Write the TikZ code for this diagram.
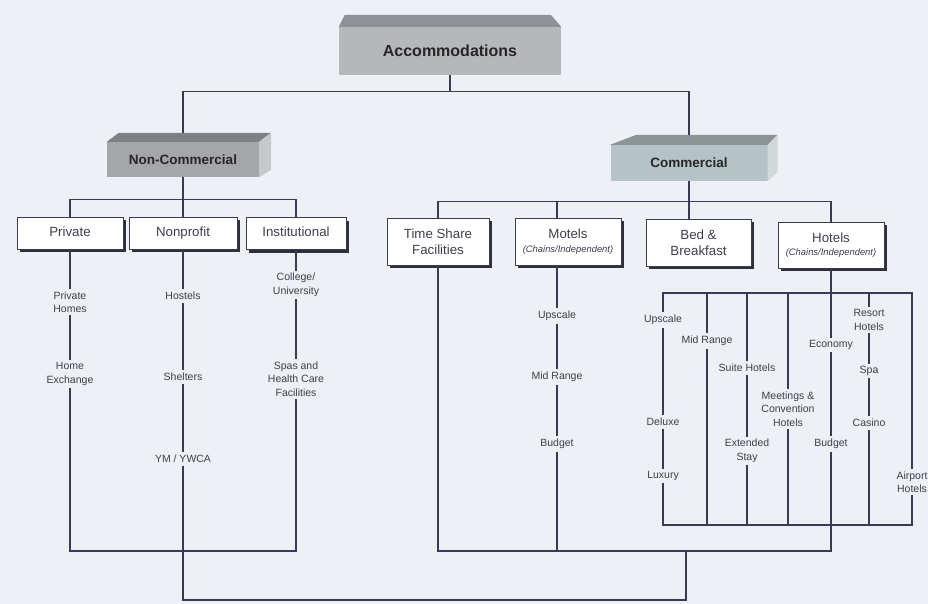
\documentclass[tikz,border=0pt]{standalone}
\usepackage{fontspec}
\setmainfont{Liberation Sans}
\usetikzlibrary{positioning,shadows}
\definecolor{paper}{HTML}{EDF0F5}
\definecolor{ink}{HTML}{3A3A56}
\definecolor{txt}{HTML}{3E3E4E}
\definecolor{shade}{HTML}{2F2F3D}
\definecolor{accfront}{HTML}{B5B7BB}
\definecolor{acctop}{HTML}{8F9197}
\definecolor{ncfront}{HTML}{A5A6AA}
\definecolor{nctop}{HTML}{7E8086}
\definecolor{ncside}{HTML}{C6C8CC}
\definecolor{cfront}{HTML}{B4C3C5}
\definecolor{ctop}{HTML}{8B9395}
\definecolor{cside}{HTML}{D2D8DA}
\newcommand\brandnote{{\fontsize{9.4}{11}\selectfont\itshape (Chains/Independent)}}
\tikzset{
  link/.style={draw=ink, line width=1.2pt},
  block/.style={inner sep=0pt, text=black!85,
    font=\fontsize{13.5}{16}\selectfont\bfseries},
  catbox/.style={draw=ink, line width=0.8pt, fill=white, minimum width=106pt,
    minimum height=32pt, inner sep=1pt, align=center, text=txt,
    font=\fontsize{13.3}{16.5}\selectfont,
    drop shadow={shadow xshift=3pt, shadow yshift=-3pt, fill=shade, opacity=1}},
  oneline/.style={text height=9.6pt, text depth=2.8pt},
  item/.style={inner sep=2.5pt, align=center, text=txt,
    font=\fontsize{10.5}{13.5}\selectfont}
}
\begin{document}
\begin{tikzpicture}[x=1pt, y=-1pt]
\fill[paper] (0,0) rectangle (928,604);
\useasboundingbox (0,0) rectangle (928,604);

% blocks
\node[block, fill=accfront, minimum width=222pt, minimum height=48pt,
  font=\fontsize{16}{19}\selectfont\bfseries] (acc) at (450,51) {Accommodations};
\fill[acctop] (acc.north west) -- ++(6,-12) -- ++(206,0) -- (acc.north east) -- cycle;
\node[block, fill=ncfront, minimum width=152pt, minimum height=35pt] (nc) at (183,159.5) {Non-Commercial};
\fill[nctop] (nc.north west) -- ++(12,-9) -- ++(152,0) -- (nc.north east) -- cycle;
\fill[ncside] (nc.north east) -- ++(12,-9) -- ++(0,37) -- (nc.south east) -- cycle;
\node[block, fill=cfront, minimum width=157pt, minimum height=36pt] (com) at (689,163) {Commercial};
\fill[ctop] (com.north west) -- ++(26,-10) -- ++(141,0) -- (com.north east) -- cycle;
\fill[cside] (com.north east) -- ++(10,-10) -- ++(0,37) -- (com.south east) -- cycle;
\coordinate (ncback) at (183,133);
\coordinate (cback) at (689,135);

% categories
\node[catbox, oneline] (priv) at (70,233) {Private};
\node[catbox, oneline, minimum width=108pt] (nonp) at (183,233) {Nonprofit};
\node[catbox, oneline, minimum width=100pt] (inst) at (296,233.5) {Institutional};
\node[catbox, minimum width=102pt, minimum height=47pt] (ts) at (438,241.5) {Time Share\\Facilities};
\node[catbox, minimum height=47pt] (mot) at (568,241.5) {Motels\\[-3pt]\brandnote};
\node[catbox, minimum width=105pt, minimum height=47pt] (bb) at (698.5,242.5) {Bed \&\\Breakfast};
\node[catbox, minimum height=46pt] (hot) at (831,245) {Hotels\\[-3pt]\brandnote};

% non-commercial items
\node[item] (phome) at (70,302) {Private\\Homes};
\node[item] (hex) at (70,374) {Home\\Exchange};
\node[item] (host) at (183,296) {Hostels};
\node[item] (shel) at (183,377) {Shelters};
\node[item] (ym) at (183,459) {YM / YWCA};
\node[item] (coll) at (296,285) {College/\\University};
\node[item] (spas) at (296,379) {Spas and\\Health Care\\Facilities};

% motel items
\node[item] (mup) at (557,316) {Upscale};
\node[item] (mmid) at (557,377) {Mid Range};
\node[item] (mbud) at (557,444) {Budget};

% hotel items
\node[item] (hup) at (663,320) {Upscale};
\node[item] (del) at (663,422) {Deluxe};
\node[item] (lux) at (663,476) {Luxury};
\node[item] (hmid) at (707,341) {Mid Range};
\node[item] (suite) at (747,368) {Suite Hotels};
\node[item] (ext) at (747,451) {Extended\\Stay};
\node[item] (meet) at (788,409) {Meetings \&\\Convention\\Hotels};
\node[item] (econ) at (831,345) {Economy};
\node[item] (hbud) at (831,444) {Budget};
\node[item] (resort) at (869,320) {Resort\\Hotels};
\node[item] (spa) at (869,371) {Spa};
\node[item] (casino) at (869,423) {Casino};
\node[item] (air) at (912,482) {Airport\\Hotels};
\coordinate (gridtop) at (788,293);
\coordinate (gridfoot) at (788,525);
\coordinate (ncfoot) at (183,551);
\coordinate (cfoot) at (686,551);
\coordinate (allfoot) at (686,600);

% connectors
\draw[link] (acc.south) -- ++(0,16) coordinate (fork) -| (ncback);
\draw[link] (fork) -| (cback);
\draw[link] (nc.south) -- (nonp.north);
\draw[link] (priv.north) -- ++(0,-17) -| (inst.north);
\draw[link] (com.south) -- (com.south |- bb.north);
\draw[link] (ts.north) -- ++(0,-16) -| (hot.north);
\draw[link] (mot.north -| mup) -- ++(0,-16);
\path[link]
(priv) edge (phome)
(phome) edge (hex)
(nonp) edge (host)
(host) edge (shel)
(shel) edge (ym)
(inst) edge (coll)
(coll) edge (spas)
(mot.south -| mup) edge (mup)
(mup) edge (mmid)
(mmid) edge (mbud)
(hot) edge (econ)
(econ) edge (hbud)
(hup) edge (del)
(del) edge (lux)
(suite) edge (ext)
(resort) edge (spa)
(spa) edge (casino);
\draw[link] (hup.north) |- (gridtop) -| (air.north);
\foreach \n in {hmid, suite, meet, resort}
  \draw[link] (\n.north) -- (\n.north |- gridtop);
\draw[link] (lux.south) |- (gridfoot) -| (air.south);
\foreach \n in {hmid, ext, meet, casino}
  \draw[link] (\n.south) -- (\n.south |- gridfoot);
\draw[link] (hex.south) |- (ncfoot) -| (spas.south);
\draw[link] (ts.south) |- (hbud.south |- cfoot) -- (hbud.south);
\draw[link] (mbud.south) -- (mbud.south |- cfoot);
\draw[link] (ym.south) |- (allfoot) -- (cfoot);
\end{tikzpicture}
\end{document}
